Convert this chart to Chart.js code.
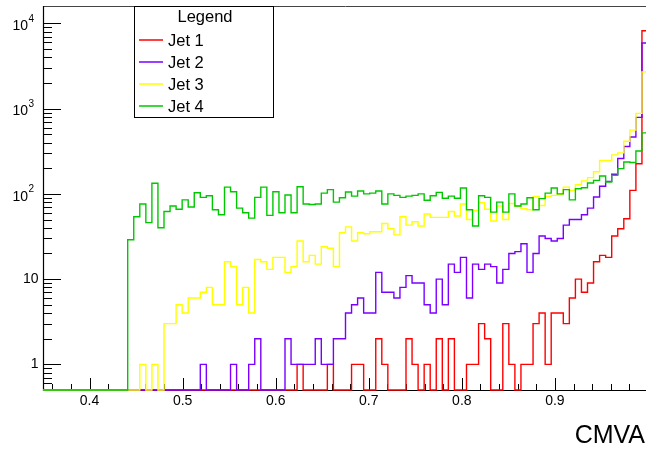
<!DOCTYPE html>
<html>
<head>
<meta charset="utf-8">
<script src="https://cdn.jsdelivr.net/npm/chart.js@4/dist/chart.umd.min.js"></script>
<style>
  html, body { margin: 0; padding: 0; background: #fff; overflow: hidden; }
  canvas { display: block; }
</style>
</head>
<body>
<canvas id="cmva" width="660" height="450"></canvas>
<script>
// binning of the CMVA histograms
const xLow = 0.35;
const xHigh = 1.0;
const nBins = 100;
const yMin = 0.5;
const yMax = 16000;

const jetLabels = ['Jet 1', 'Jet 2', 'Jet 3', 'Jet 4'];
const jetColors = ['#ff0000', '#7b00ff', '#ffff00', '#00c800'];

// bin contents, bins 0..99
const jet1 = [
  0, 0, 0, 0, 0, 0, 0, 0, 0, 0,
  0, 0, 0, 0, 0, 0, 0, 0, 0, 0,
  0, 0, 0, 0, 0, 0, 0, 0, 0, 0,
  0, 0, 0, 0, 0, 0, 0, 0, 0, 0,
  0, 0, 1, 0, 0, 0, 0, 1, 0, 0,
  0, 1, 1, 0, 0, 2, 1, 0, 0, 0,
  2, 1, 0, 1, 0, 2, 0, 2, 0, 0,
  1, 1, 3, 2, 0, 0, 3, 1, 0, 1,
  1, 3, 4, 1, 4, 4, 3, 6, 10, 7,
  9, 16, 19, 18, 32, 39, 51, 110, 226, 8200
];
const jet2 = [
  0, 0, 0, 0, 0, 0, 0, 0, 0, 0,
  0, 0, 0, 0, 0, 0, 0, 0, 0, 0,
  0, 0, 0, 0, 0, 0, 1, 0, 0, 0,
  0, 1, 0, 0, 1, 2, 0, 0, 0, 0,
  2, 1, 1, 1, 1, 2, 1, 1, 2, 2,
  4, 5, 6, 4, 4, 12, 7, 7, 6, 8,
  11, 9, 9, 5, 4, 10, 5, 15, 12, 18,
  6, 15, 13, 15, 14, 9, 13, 20, 21, 26,
  12, 20, 32, 30, 28, 30, 43, 50, 50, 57,
  68, 92, 123, 140, 170, 260, 360, 465, 790, 5900
];
const jet3 = [
  0, 0, 0, 0, 0, 0, 0, 0, 0, 0,
  0, 0, 0, 0, 0, 0, 1, 0, 1, 0,
  3, 3, 5, 4, 6, 6, 7, 8, 5, 5,
  16, 14, 5, 8, 4, 17, 16, 13, 18, 18,
  12, 14, 28, 16, 19, 15, 24, 23, 14, 35,
  41, 28, 35, 34, 36, 36, 45, 39, 33, 54,
  43, 47, 42, 58, 53, 53, 53, 62, 55, 76,
  50, 64, 79, 66, 48, 72, 50, 77, 72, 67,
  65, 93, 73, 93, 96, 98, 120, 110, 128, 142,
  155, 182, 247, 247, 287, 303, 415, 560, 880, 2700
];
const jet4 = [
  0, 0, 0, 0, 0, 0, 0, 0, 0, 0,
  0, 0, 0, 0, 29, 54, 76, 46, 133, 40,
  62, 72, 66, 85, 70, 103, 91, 95, 65, 57,
  120, 106, 68, 60, 52, 91, 120, 56, 106, 60,
  97, 60, 121, 76, 75, 76, 102, 112, 80, 90,
  105, 94, 108, 100, 102, 108, 76, 100, 96, 91,
  94, 96, 100, 84, 95, 104, 89, 94, 89, 117,
  65, 42, 95, 91, 61, 80, 61, 100, 72, 76,
  90, 65, 88, 102, 117, 100, 112, 85, 115, 118,
  134, 144, 162, 138, 165, 198, 237, 233, 318, 520
];

const xTicks = [0.4, 0.5, 0.6, 0.7, 0.8, 0.9];
const xTickLabels = ['0.4', '0.5', '0.6', '0.7', '0.8', '0.9'];
const yTicks = [1, 10, 100, 1000, 10000];
const yTickBase = ['1', '10', '10', '10', '10'];
const yTickExp = ['', '', '2', '3', '4'];

const FONT = '"Liberation Sans", Arial, Helvetica, sans-serif';

// outline of a histogram as a stepped line through the low bin edges
function histSteps(counts) {
  const w = (xHigh - xLow) / nBins;
  const pts = counts.map((v, i) => ({ x: xLow + i * w, y: Math.max(v, yMin) }));
  pts.push({ x: xHigh, y: Math.max(counts[counts.length - 1], yMin) });
  return pts;
}

const series = [jet1, jet2, jet3, jet4];

const rootAxes = {
  id: 'rootAxes',
  beforeDatasetsDraw(chart) {
    const { ctx, chartArea: a, scales: { x, y } } = chart;
    ctx.save();
    // frame
    ctx.strokeStyle = '#444';
    ctx.lineWidth = 1;
    ctx.beginPath();
    ctx.moveTo(a.left, a.top + 0.5);
    ctx.lineTo(a.right, a.top + 0.5);
    ctx.lineTo(a.right, a.bottom);
    ctx.stroke();

    ctx.strokeStyle = '#000';
    ctx.lineWidth = 1.2;
    ctx.beginPath();
    ctx.moveTo(a.left + 0.5, a.top);
    ctx.lineTo(a.left + 0.5, a.bottom + 0.5);
    ctx.lineTo(a.right, a.bottom + 0.5);
    ctx.stroke();

    // x ticks, pointing into the frame
    ctx.lineWidth = 1;
    ctx.beginPath();
    for (let k = 0; k <= 32; k++) {
      const v = 0.36 + k * 0.02;
      const px = Math.round(x.getPixelForValue(v)) + 0.5;
      const major = Math.abs(v * 10 - Math.round(v * 10)) < 1e-6;
      ctx.moveTo(px, a.bottom);
      ctx.lineTo(px, a.bottom - (major ? 12 : 6));
    }
    // y ticks, log decades with minor ticks 2..9
    for (let d = 0.1; d <= 10000; d *= 10) {
      for (let m = 1; m <= 9; m++) {
        const v = m * d;
        if (v < yMin || v > yMax) continue;
        const py = Math.round(y.getPixelForValue(v)) + 0.5;
        ctx.moveTo(a.left, py);
        ctx.lineTo(a.left + (m === 1 ? 18 : 9), py);
      }
    }
    ctx.stroke();
    ctx.restore();
  },
  afterDraw(chart) {
    const { ctx, chartArea: a, scales: { x, y } } = chart;
    ctx.save();
    ctx.fillStyle = '#000';

    // x tick labels
    ctx.font = '14px ' + FONT;
    ctx.textAlign = 'center';
    ctx.textBaseline = 'middle';
    xTicks.forEach((t, i) => {
      ctx.fillText(xTickLabels[i], x.getPixelForValue(t), a.bottom + 11);
    });

    // y tick labels, powers of ten with raised exponent
    yTicks.forEach((t, i) => {
      const py = y.getPixelForValue(t);
      if (yTickExp[i]) {
        ctx.font = '14px ' + FONT;
        ctx.textAlign = 'right';
        ctx.fillText(yTickBase[i], 28, py + 3);
        ctx.font = '10px ' + FONT;
        ctx.textAlign = 'left';
        ctx.fillText(yTickExp[i], 28.5, py - 4.5);
      } else {
        ctx.font = '14px ' + FONT;
        ctx.textAlign = 'right';
        ctx.fillText(yTickBase[i], 38.5, py);
      }
    });

    // axis title
    ctx.font = '25px ' + FONT;
    ctx.textAlign = 'right';
    ctx.fillText('CMVA', 645, 436);

    // legend box
    const bx = 134.5, by = 6.5, bw = 139, bh = 111;
    ctx.fillStyle = '#fff';
    ctx.fillRect(bx, by, bw, bh);
    ctx.strokeStyle = '#000';
    ctx.lineWidth = 1;
    ctx.strokeRect(bx, by, bw, bh);
    ctx.fillStyle = '#000';
    ctx.font = '16.5px ' + FONT;
    ctx.textAlign = 'center';
    ctx.fillText('Legend', 205, 17.5);
    ctx.textAlign = 'left';
    jetLabels.forEach((lab, i) => {
      const ly = 40 + i * 22;
      ctx.strokeStyle = jetColors[i];
      ctx.lineWidth = 1.5;
      ctx.beginPath();
      ctx.moveTo(139, ly);
      ctx.lineTo(163, ly);
      ctx.stroke();
      ctx.fillStyle = '#000';
      ctx.fillText(lab, 168, ly + 1);
    });
    ctx.restore();
  }
};

const ctx = document.getElementById('cmva').getContext('2d');
new Chart(ctx, {
  type: 'line',
  data: {
    datasets: series.map((counts, i) => ({
      label: jetLabels[i],
      data: histSteps(counts),
      borderColor: jetColors[i],
      borderWidth: 1.4,
      stepped: true,
      fill: false,
      pointRadius: 0,
      clip: false,
      order: series.length - 1 - i
    }))
  },
  options: {
    responsive: false,
    animation: false,
    layout: { padding: { left: 43, right: 12, top: 6, bottom: 60 } },
    scales: {
      x: { type: 'linear', min: xLow, max: xHigh, display: false },
      y: { type: 'logarithmic', min: yMin, max: yMax, display: false }
    },
    plugins: {
      legend: { display: false },
      tooltip: { enabled: false }
    }
  },
  plugins: [rootAxes]
});
</script>
</body>
</html>
